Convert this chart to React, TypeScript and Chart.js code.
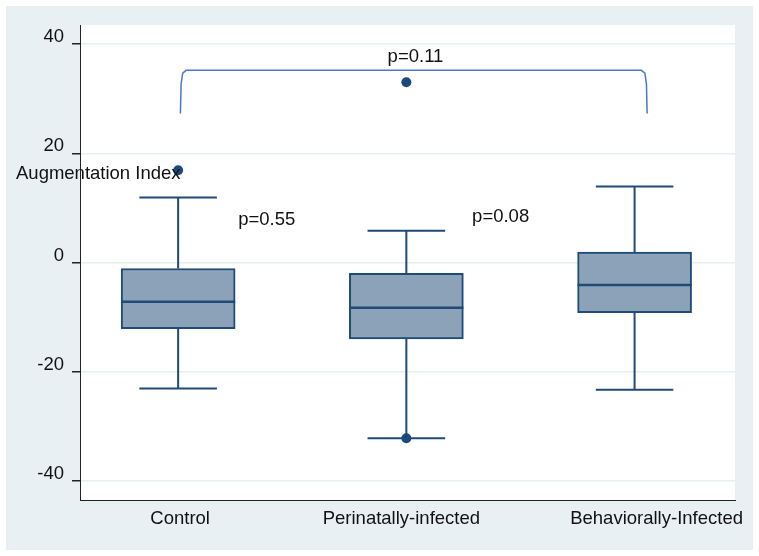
import React, { useEffect, useRef } from "react";
import { Chart, registerables } from "chart.js";

Chart.register(...registerables);

const groups = ["Control", "Perinatally-infected", "Behaviorally-Infected"];
const whiskerLow = [-23.1, -32.2, -23.3];
const q1 = [-12.1, -14.0, -9.2];
const median = [-7.2, -8.3, -4.1];
const q3 = [-1.1, -2.0, 1.9];
const whiskerHigh = [11.9, 5.8, 13.9];
const outlierGroup = [1, 2, 2];
const outlierValue = [16.9, 33.0, -32.2];
const yTicks = [-40, -20, 0, 20, 40];
const yTitle = "Augmentation Index";
const pLabels = ["p=0.55", "p=0.08", "p=0.11"];
const bracketLevel = 35.2;
const bracketFoot = 27.3;

const NAVY = "#1f4b76";
const BOX_FILL = "#8ca2b8";
const FONT = "'Liberation Sans', Arial, sans-serif";

export default function App() {
  const ref = useRef<HTMLCanvasElement | null>(null);

  useEffect(() => {
    const canvas = ref.current;
    if (!canvas) return;

    const boxHalf = 0.25;
    const capHalf = 0.17;
    const whiskers: any[] = [];
    const caps: any[] = [];
    const medians: any[] = [];
    groups.forEach((_, i) => {
      const x = i + 1;
      whiskers.push({ x, y: q3[i] }, { x, y: whiskerHigh[i] }, { x, y: null });
      whiskers.push({ x, y: q1[i] }, { x, y: whiskerLow[i] }, { x, y: null });
      caps.push({ x: x - capHalf, y: whiskerHigh[i] }, { x: x + capHalf, y: whiskerHigh[i] }, { x, y: null });
      caps.push({ x: x - capHalf, y: whiskerLow[i] }, { x: x + capHalf, y: whiskerLow[i] }, { x, y: null });
      medians.push({ x: x - boxHalf, y: median[i] }, { x: x + boxHalf, y: median[i] }, { x, y: null });
    });
    const boxes = groups.map((_, i) => ({ x: i + 1, y: [q1[i], q3[i]] }));
    const outliers = outlierGroup.map((g, i) => ({ x: g, y: outlierValue[i] }));
    const bracket = [
      { x: 1.01, y: bracketFoot },
      { x: 1.013, y: bracketLevel - 2.5 },
      { x: 1.02, y: bracketLevel - 0.5 },
      { x: 1.035, y: bracketLevel },
      { x: 3.03, y: bracketLevel },
      { x: 3.045, y: bracketLevel - 0.5 },
      { x: 3.052, y: bracketLevel - 2.5 },
      { x: 3.055, y: bracketFoot },
    ];

    const bgPlugin = {
      id: "bg",
      beforeDraw(chart: any) {
        const { ctx, width, height, chartArea } = chart;
        ctx.save();
        ctx.fillStyle = "#ffffff";
        ctx.fillRect(0, 0, width, height);
        ctx.fillStyle = "#e9f0f3";
        ctx.fillRect(6, 6, width - 12, height - 12);
        ctx.fillStyle = "#ffffff";
        ctx.fillRect(chartArea.left, chartArea.top, chartArea.right - chartArea.left, chartArea.bottom - chartArea.top);
        ctx.restore();
      },
    };

    const textPlugin = {
      id: "texts",
      afterDatasetsDraw(chart: any) {
        const { ctx, scales } = chart;
        const xs = scales.x;
        const ys = scales.y;
        ctx.save();
        ctx.fillStyle = "#111111";
        ctx.font = `18.5px ${FONT}`;
        ctx.textBaseline = "middle";
        // p-values
        ctx.textAlign = "left";
        ctx.fillText(pLabels[0], xs.getPixelForValue(1.263), ys.getPixelForValue(7.8));
        ctx.fillText(pLabels[1], xs.getPixelForValue(2.288), ys.getPixelForValue(8.3));
        ctx.textAlign = "center";
        ctx.fillText(pLabels[2], xs.getPixelForValue(2.04), ys.getPixelForValue(37.6));
        // y title (drawn horizontally as in the reference)
        ctx.textAlign = "left";
        ctx.fillText(yTitle, 16, ys.getPixelForValue(16.2));
        // category labels
        const offs = [2, -5, 22];
        ctx.textAlign = "center";
        groups.forEach((g, i) => {
          ctx.fillText(g, xs.getPixelForValue(i + 1) + offs[i], chart.chartArea.bottom + 19);
        });
        ctx.restore();
      },
    };

    const chart = new Chart(canvas, {
      type: "bar",
      data: {
        datasets: [
          {
            type: "scatter",
            data: outliers,
            pointRadius: 5,
            pointBackgroundColor: "#1a4a7c",
            pointBorderWidth: 0,
            order: 0,
          } as any,
          {
            type: "line",
            data: medians,
            borderColor: NAVY,
            borderWidth: 2.5,
            pointRadius: 0,
            spanGaps: false,
            order: 1,
          } as any,
          {
            type: "line",
            data: caps,
            borderColor: NAVY,
            borderWidth: 2,
            pointRadius: 0,
            spanGaps: false,
            order: 1,
          } as any,
          {
            type: "line",
            data: whiskers,
            borderColor: NAVY,
            borderWidth: 2,
            pointRadius: 0,
            spanGaps: false,
            order: 3,
          } as any,
          {
            type: "bar",
            data: boxes,
            backgroundColor: BOX_FILL,
            borderColor: NAVY,
            borderWidth: 2,
            borderSkipped: false,
            barThickness: 114,
            order: 2,
          } as any,
          {
            type: "line",
            data: bracket,
            borderColor: "#4a78c8",
            borderWidth: 1.5,
            pointRadius: 0,
            tension: 0,
            order: 4,
          } as any,
        ],
      },
      options: {
        responsive: false,
        animation: false,
        devicePixelRatio: 1,
        layout: { padding: { top: 25, right: 24, left: 0, bottom: 0 } },
        plugins: { legend: { display: false }, tooltip: { enabled: false } },
        scales: {
          x: {
            type: "linear",
            min: 0.57,
            max: 3.44,
            offset: false,
            grid: { display: true, drawOnChartArea: false, drawTicks: false, offset: false },
            border: { display: true, color: "#222222", width: 1 },
            ticks: { display: false },
            afterFit(scale: any) {
              scale.height = 56;
            },
          },
          y: {
            type: "linear",
            min: -43.5,
            max: 43.5,
            afterBuildTicks(scale: any) {
              scale.ticks = yTicks.map((v) => ({ value: v }));
            },
            grid: {
              color: "#e8eff1",
              lineWidth: 1.5,
              tickColor: "#222222",
              tickLength: 8,
              drawTicks: true,
            },
            border: { display: true, color: "#222222", width: 1 },
            ticks: {
              color: "#111111",
              font: { family: FONT, size: 18.5 },
              padding: 8,
              labelOffset: -7,
            },
            afterFit(scale: any) {
              scale.width = 80;
            },
          },
        },
      } as any,
      plugins: [bgPlugin, textPlugin],
    });

    return () => chart.destroy();
  }, []);

  return (
    <div style={{ position: "fixed", left: 0, top: 0, width: 759, height: 556 }}>
      <canvas ref={ref} width={759} height={556} style={{ display: "block" }} />
    </div>
  );
}
